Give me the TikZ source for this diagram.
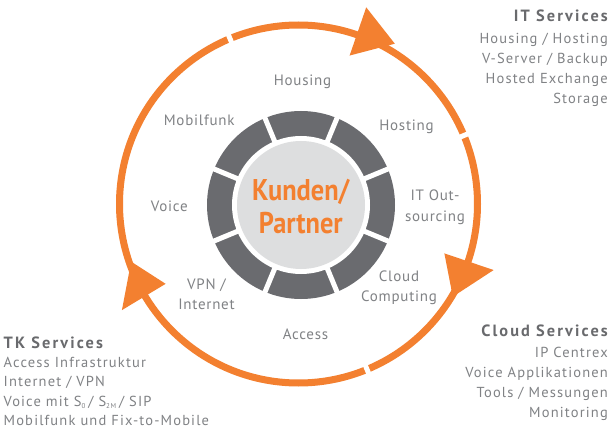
\documentclass[tikz,border=0pt]{standalone}
\usepackage{fontspec}
\usepackage{graphicx}
\setmainfont{PT Sans}
\newfontfamily\lsfont[LetterSpace=8]{PT Sans}
\newfontfamily\ringfont[LetterSpace=5]{PT Sans}
\newfontfamily\ttlfont[LetterSpace=13]{PT Sans}
\definecolor{cyorange}{RGB}{243,128,48}
\definecolor{ringgray}{RGB}{106,107,111}
\definecolor{centergray}{RGB}{221,222,223}
\definecolor{txtgray}{RGB}{128,130,133}
\definecolor{ttlgray}{RGB}{105,106,109}
\tikzset{
  lbl/.style={font=\ringfont\fontsize{15}{20}\selectfont, text=txtgray, inner sep=0pt, anchor=base},
  listR/.style={font=\lsfont\fontsize{14.5}{20}\selectfont, text=txtgray, inner sep=0pt, anchor=base east},
  listL/.style={font=\lsfont\fontsize{14.5}{20}\selectfont, text=txtgray, inner sep=0pt, anchor=base west},
  ttlR/.style={font=\ttlfont\fontsize{16.3}{20}\selectfont\bfseries, text=ttlgray, inner sep=0pt, anchor=base east},
  ttlL/.style={font=\ttlfont\fontsize{16.3}{20}\selectfont\bfseries, text=ttlgray, inner sep=0pt, anchor=base west},
  core/.style={font=\fontsize{30}{31}\selectfont\bfseries, text=cyorange, inner sep=0pt, anchor=base},
  arrowhd/.style={fill=cyorange},
}
\begin{document}
\begin{tikzpicture}[x=1pt,y=1pt]
\useasboundingbox (0,0) rectangle (614,432);
\fill[white] (0,0) rectangle (614,432);
\coordinate (O) at (298.5,228);
\coordinate (C) at (301,227);
% orange cycle
\begin{scope}[shift={(298.5,228)}]
  \draw[cyorange, line width=7pt] (0,0) circle (179pt);
  \foreach \a in {112.5,22.5,-67.5}
    \draw[white, line width=5pt] (\a:166pt) -- (\a:192pt);
  \fill[arrowhd] (71:157pt) -- (71:208pt) -- (59:187pt) -- cycle;
  \fill[arrowhd] (-18.7:154pt) -- (-18.7:206pt) -- (-31:180pt) -- cycle;
  \fill[arrowhd] (211:155pt) -- (211:206pt) -- (199:177pt) -- cycle;
\end{scope}
% inner ring
\begin{scope}[shift={(301,227)}]
  \fill[ringgray] (0,0) circle (94pt);
  \fill[white] (0,0) circle (69pt);
  \foreach \a in {22.5,67.5,...,337.5}
    \draw[white, line width=5pt] (\a:60pt) -- (\a:100pt);
  \fill[centergray] (0,0) circle (64pt);
\end{scope}
\node[core] (k1) at (300.8,231) {\scalebox{0.88}[1]{Kunden/}};
\node[core] (k2) at (300.8,198.7) {\scalebox{0.88}[1]{Partner}};
% ring labels
\node[lbl] (housing) at (302.5,346) {Housing};
\node[lbl] (hosting) at (406.5,301.3) {Hosting};
\node[lbl] (itout1) at (435,231) {IT Out-};
\node[lbl] (itout2) at (435,211) {sourcing};
\node[lbl] (cloud1) at (399,150.3) {Cloud};
\node[lbl] (cloud2) at (399,130.3) {Computing};
\node[lbl] (access) at (305.5,93) {Access};
\node[lbl] (vpn1) at (206.5,142.7) {VPN /};
\node[lbl] (vpn2) at (206.5,122.7) {Internet};
\node[lbl] (voice) at (169.3,220.7) {Voice};
\node[lbl] (mobil) at (199.2,306) {Mobilfunk};
% IT services
\node[ttlR] (itt) at (608,410) {IT Services};
\node[listR] (it1) at (608,388) {Housing / Hosting};
\node[listR] (it2) at (608,368) {V-Server / Backup};
\node[listR] (it3) at (608,348) {Hosted Exchange};
\node[listR] (it4) at (608,328) {Storage};
% Cloud services
\node[ttlR] (clt) at (608,96) {Cloud Services};
\node[listR] (cl1) at (608,75) {IP Centrex};
\node[listR] (cl2) at (608,55) {Voice Applikationen};
\node[listR] (cl3) at (608,35) {Tools / Messungen};
\node[listR] (cl4) at (608,15) {Monitoring};
% TK services
\node[ttlL] (tkt) at (3.5,84) {TK Services};
\node[listL] (tk1) at (3.5,64.3) {Access Infrastruktur};
\node[listL] (tk2) at (3.5,45.3) {Internet / VPN};
\node[listL] (tk3) at (3.5,26) {Voice mit S\textsubscript{\fontsize{7}{8}\selectfont 0}\,/ S\textsubscript{\fontsize{7}{8}\selectfont 2M}\,/ SIP};
\node[listL] (tk4) at (3.5,6.7) {Mobilfunk und Fix-to-Mobile};
\end{tikzpicture}
\end{document}
